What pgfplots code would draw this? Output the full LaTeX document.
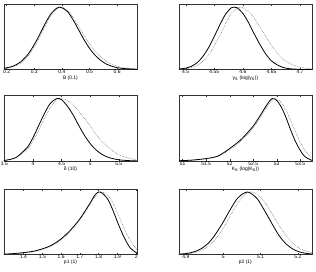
\documentclass[border=0pt]{standalone}
\usepackage{fontspec}
\setmainfont{Liberation Sans}
\usepackage{pgfplots}
\pgfplotsset{compat=1.18}
\pgfplotsset{
  mp/.style={
    scale only axis, width=134bp, height=66bp,
    anchor=north west,
    ymin=0, ymax=1.05, ytick=\empty,
    tick align=inside, major tick length=2bp,
    axis line style={line width=0.4pt, black!80},
    every tick/.style={black!80, line width=0.3pt},
    tick label style={font=\fontsize{5}{6}\selectfont, inner sep=1pt},
    xlabel style={font=\fontsize{5}{6}\selectfont, inner sep=0.5pt},
    /pgf/number format/assume math mode=true,
    x tick label style={yshift=0.5bp},
    clip=true,
  },
  sol/.style={black, line width=0.8pt, smooth},
  dot/.style={black!55, line width=0.6pt, dash pattern=on 0.6pt off 1.0pt, smooth},
}
\begin{document}
\begin{tikzpicture}
\path (0,0) rectangle (316bp,-273bp);
% Row 1 left: B
\begin{axis}[mp, at={(2bp,-4bp)}, xmin=0.19, xmax=0.672, xtick={0.2,0.3,0.4,0.5,0.6}, xlabel={B (0.1)}]
\addplot[dot] coordinates {(0.19,0.015) (0.22,0.04) (0.25,0.10) (0.28,0.23) (0.31,0.44) (0.34,0.70) (0.36,0.86) (0.38,0.96) (0.395,1.0) (0.41,0.98) (0.43,0.90) (0.45,0.77) (0.47,0.62) (0.49,0.48) (0.51,0.35) (0.53,0.25) (0.55,0.17) (0.57,0.11) (0.59,0.07) (0.61,0.04) (0.64,0.02) (0.672,0.008)};
\addplot[sol] coordinates {(0.19,0.02) (0.22,0.05) (0.25,0.12) (0.28,0.26) (0.31,0.48) (0.34,0.74) (0.36,0.89) (0.38,0.98) (0.39,1.0) (0.40,0.99) (0.42,0.93) (0.44,0.80) (0.46,0.64) (0.48,0.48) (0.50,0.34) (0.52,0.23) (0.54,0.15) (0.56,0.09) (0.58,0.055) (0.60,0.03) (0.63,0.015) (0.672,0.005)};
\end{axis}
% Row 1 right: gamma
\begin{axis}[mp, at={(178bp,-4bp)}, xmin=4.488, xmax=4.721, xtick={4.5,4.55,4.6,4.65,4.7}, xticklabels={4.5,4.55,4.6,4.65,4.7}, xlabel={γ\textsubscript{s} (log(γ\textsubscript{s}))}]
\addplot[dot] coordinates {(4.488,0.004) (4.50,0.012) (4.52,0.065) (4.54,0.23) (4.56,0.55) (4.57,0.74) (4.58,0.90) (4.595,1.0) (4.61,0.93) (4.62,0.82) (4.63,0.68) (4.64,0.53) (4.65,0.39) (4.66,0.27) (4.67,0.17) (4.68,0.11) (4.69,0.065) (4.70,0.037) (4.721,0.01)};
\addplot[sol] coordinates {(4.488,0.01) (4.50,0.023) (4.51,0.053) (4.52,0.11) (4.53,0.21) (4.54,0.35) (4.55,0.53) (4.56,0.72) (4.57,0.89) (4.58,0.99) (4.585,1.0) (4.59,0.99) (4.60,0.90) (4.61,0.75) (4.62,0.57) (4.63,0.40) (4.64,0.25) (4.65,0.14) (4.66,0.076) (4.67,0.036) (4.68,0.016) (4.70,0.003) (4.721,0.0)};
\end{axis}
% Row 2 left: delta
\begin{axis}[mp, at={(2bp,-96bp)}, xmin=3.49, xmax=5.82, xtick={3.5,4,4.5,5,5.5}, xlabel={δ (10)}]
\addplot[dot] coordinates {(3.49,0.008) (3.7,0.051) (3.9,0.19) (4.0,0.32) (4.1,0.49) (4.2,0.68) (4.3,0.85) (4.4,0.97) (4.48,1.0) (4.6,0.97) (4.7,0.90) (4.8,0.80) (4.9,0.68) (5.0,0.56) (5.1,0.43) (5.2,0.32) (5.3,0.23) (5.4,0.16) (5.5,0.10) (5.6,0.066) (5.7,0.04) (5.82,0.02)};
\addplot[sol] coordinates {(3.49,0.008) (3.7,0.056) (3.9,0.22) (4.0,0.375) (4.1,0.57) (4.2,0.76) (4.3,0.92) (4.42,1.0) (4.5,0.98) (4.6,0.88) (4.7,0.74) (4.8,0.57) (4.9,0.41) (5.0,0.28) (5.1,0.18) (5.2,0.11) (5.3,0.065) (5.4,0.038) (5.5,0.02) (5.65,0.008) (5.82,0.002)};
\end{axis}
% Row 2 right: K
\begin{axis}[mp, at={(178bp,-96bp)}, xmin=50.92, xmax=53.75, xtick={51,51.5,52,52.5,53,53.5}, xlabel={K\textsubscript{s} (log(K\textsubscript{s}))}]
\addplot[dot] coordinates {(50.92,0.004) (51.2,0.012) (51.5,0.035) (51.75,0.075) (52.0,0.18) (52.25,0.33) (52.5,0.53) (52.65,0.70) (52.8,0.88) (52.9,0.97) (52.95,1.0) (53.05,0.97) (53.15,0.88) (53.25,0.73) (53.35,0.55) (53.45,0.38) (53.55,0.23) (53.65,0.12) (53.75,0.05)};
\addplot[sol] coordinates {(50.92,0.005) (51.2,0.015) (51.5,0.04) (51.75,0.08) (52.0,0.20) (52.25,0.35) (52.5,0.56) (52.65,0.73) (52.8,0.91) (52.9,1.0) (53.0,0.97) (53.1,0.86) (53.2,0.69) (53.3,0.49) (53.4,0.31) (53.5,0.17) (53.6,0.07) (53.75,0.01)};
\end{axis}
% Row 3 left: p1
\begin{axis}[mp, at={(2bp,-190bp)}, xmin=1.295, xmax=2.005, xtick={1.4,1.5,1.6,1.7,1.8,1.9,2}, xlabel={p1 (1)}]
\addplot[dot] coordinates {(1.295,0.004) (1.35,0.012) (1.4,0.025) (1.45,0.045) (1.5,0.08) (1.55,0.14) (1.6,0.23) (1.65,0.37) (1.7,0.55) (1.75,0.78) (1.78,0.92) (1.81,1.0) (1.84,0.97) (1.87,0.86) (1.90,0.67) (1.93,0.46) (1.96,0.27) (1.99,0.13) (2.005,0.08)};
\addplot[sol] coordinates {(1.295,0.005) (1.35,0.015) (1.4,0.03) (1.45,0.05) (1.5,0.09) (1.55,0.15) (1.6,0.25) (1.65,0.39) (1.7,0.57) (1.75,0.80) (1.78,0.95) (1.80,1.0) (1.82,0.98) (1.85,0.88) (1.88,0.68) (1.91,0.45) (1.94,0.25) (1.97,0.10) (2.0,0.03) (2.005,0.025)};
\end{axis}
% Row 3 right: p2
\begin{axis}[mp, at={(178bp,-190bp)}, xmin=4.881, xmax=5.238, xtick={4.9,5,5.1,5.2}, xlabel={p2 (1)}]
\addplot[dot] coordinates {(4.881,0.003) (4.90,0.009) (4.92,0.025) (4.94,0.06) (4.96,0.13) (4.98,0.25) (5.00,0.42) (5.02,0.63) (5.04,0.83) (5.06,0.97) (5.075,1.0) (5.09,0.97) (5.11,0.85) (5.13,0.66) (5.15,0.46) (5.17,0.29) (5.19,0.16) (5.21,0.08) (5.238,0.025)};
\addplot[sol] coordinates {(4.881,0.005) (4.90,0.015) (4.92,0.039) (4.94,0.09) (4.96,0.18) (4.98,0.33) (5.00,0.52) (5.02,0.73) (5.04,0.91) (5.065,1.0) (5.09,0.90) (5.11,0.71) (5.13,0.50) (5.15,0.30) (5.17,0.16) (5.19,0.076) (5.21,0.031) (5.238,0.007)};
\end{axis}
\end{tikzpicture}
\end{document}
